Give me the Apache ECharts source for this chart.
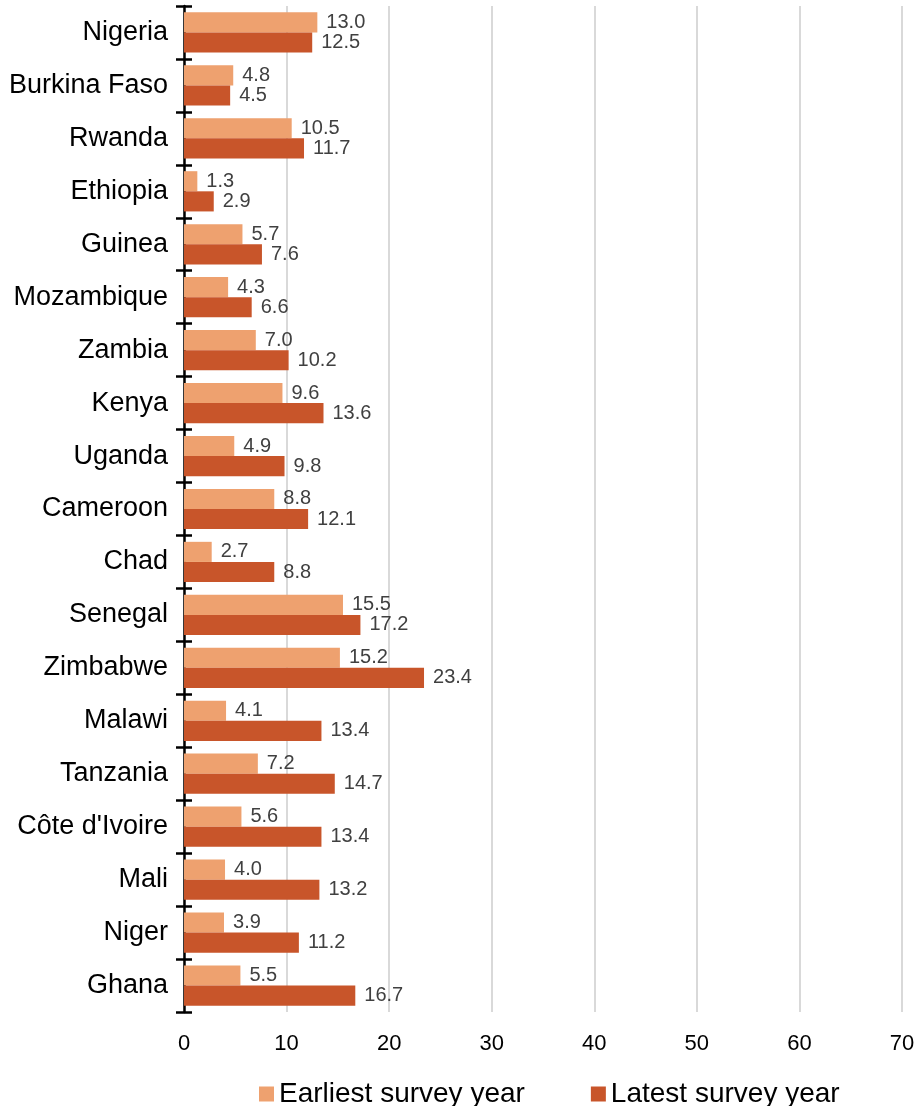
<!DOCTYPE html>
<html><head><meta charset="utf-8">
<script src="https://cdn.jsdelivr.net/npm/echarts@6/dist/echarts.min.js"></script>
<style>html,body{margin:0;padding:0;background:#fff}#c{width:918px;height:1106px}</style>
</head><body><div id="c"></div>
<script>
var categories = ["Nigeria","Burkina Faso","Rwanda","Ethiopia","Guinea","Mozambique","Zambia","Kenya","Uganda","Cameroon","Chad","Senegal","Zimbabwe","Malawi","Tanzania","Côte d'Ivoire","Mali","Niger","Ghana"];
var earliest = [13.0,4.8,10.5,1.3,5.7,4.3,7.0,9.6,4.9,8.8,2.7,15.5,15.2,4.1,7.2,5.6,4.0,3.9,5.5];
var latest = [12.5,4.5,11.7,2.9,7.6,6.6,10.2,13.6,9.8,12.1,8.8,17.2,23.4,13.4,14.7,13.4,13.2,11.2,16.7];
var seriesNames = ["Earliest survey year","Latest survey year"];
var chart = echarts.init(document.getElementById('c'));
var font = "Liberation Sans, Arial, sans-serif";
var lbl = {show:true,position:'right',distance:9,color:'#404040',fontSize:20,fontFamily:font,formatter:function(p){return p.value.toFixed(1);}};
chart.setOption({
  animation:false,
  textStyle:{fontFamily:font},
  grid:{left:184,right:16,top:6,bottom:94,containLabel:false},
  legend:{top:1075,left:254,itemWidth:15,itemHeight:15,itemGap:66,icon:'rect',
    textStyle:{fontSize:28,color:'#000',fontFamily:font},data:seriesNames},
  xAxis:{type:'value',min:0,max:70,interval:10,
    axisLine:{show:false},axisTick:{show:false},
    axisLabel:{fontSize:22,color:'#000',margin:21,fontFamily:font},
    splitLine:{lineStyle:{color:'#d9d9d9',width:2}}},
  yAxis:[
    {type:'category',data:categories,inverse:true,
     axisLine:{lineStyle:{color:'#000',width:2.5}},
     axisTick:{show:true,length:8,lineStyle:{color:'#000',width:2.5}},
     axisLabel:{fontSize:27,color:'#000',margin:16,fontFamily:font}},
    {type:'category',data:categories,inverse:true,position:'left',offset:0,
     axisLine:{show:false},
     axisTick:{show:true,inside:true,length:8,lineStyle:{color:'#000',width:2.5}},
     axisLabel:{show:false}}
  ],
  series:[
    {name:seriesNames[0],type:'bar',data:earliest,itemStyle:{color:'#EEA16F'},barGap:'0%',barCategoryGap:'24%',label:lbl},
    {name:seriesNames[1],type:'bar',data:latest,itemStyle:{color:'#C8552A'},barGap:'0%',barCategoryGap:'24%',label:lbl}
  ]
});
</script></body></html>
